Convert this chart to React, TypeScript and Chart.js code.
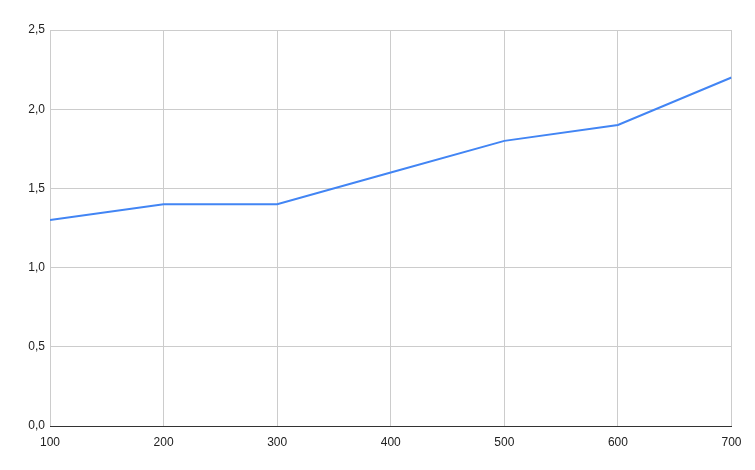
import { useEffect, useRef } from 'react'
import { Chart, registerables } from 'chart.js'

Chart.register(...registerables)

const xValues = [100, 200, 300, 400, 500, 600, 700]
const yValues = [1.3, 1.4, 1.4, 1.6, 1.8, 1.9, 2.2]

export default function App() {
  const canvasRef = useRef<HTMLCanvasElement>(null)
  const chartRef = useRef<Chart | null>(null)

  useEffect(() => {
    document.body.style.margin = '0'
    if (!canvasRef.current) return
    if (chartRef.current) chartRef.current.destroy()

    const font = { family: 'Arial, "Liberation Sans", sans-serif', size: 12 }

    chartRef.current = new Chart(canvasRef.current, {
      type: 'line',
      data: {
        datasets: [
          {
            label: 'Series',
            data: xValues.map((x, i) => ({ x, y: yValues[i] })),
            borderColor: '#4285F4',
            borderWidth: 2,
            pointRadius: 0,
            tension: 0,
            fill: false,
          },
        ],
      },
      options: {
        animation: false,
        responsive: false,
        maintainAspectRatio: false,
        layout: { padding: { top: 30, right: 23.5, bottom: 20, left: 0 } },
        plugins: { legend: { display: false }, tooltip: { enabled: false } },
        scales: {
          x: {
            type: 'linear',
            min: 100,
            max: 700,
            ticks: { stepSize: 100, color: '#222', font, padding: 9, maxRotation: 0 },
            grid: { color: '#cccccc', drawTicks: false },
            border: { display: true, color: '#333333', width: 1 },
            afterFit: (scale) => {
              scale.height = 24
            },
          },
          y: {
            min: 0,
            max: 2.5,
            ticks: {
              stepSize: 0.5,
              color: '#222',
              font,
              padding: 5,
              callback: (v) => Number(v).toFixed(1).replace('.', ','),
            },
            grid: { color: '#cccccc', drawTicks: false },
            border: { display: false },
            afterFit: (scale) => {
              scale.width = 50
            },
          },
        },
      },
    })

    return () => {
      if (chartRef.current) {
        chartRef.current.destroy()
        chartRef.current = null
      }
    }
  }, [])

  return (
    <div style={{ width: 755, height: 470, background: '#fff' }}>
      <canvas ref={canvasRef} width={755} height={470}></canvas>
    </div>
  )
}
